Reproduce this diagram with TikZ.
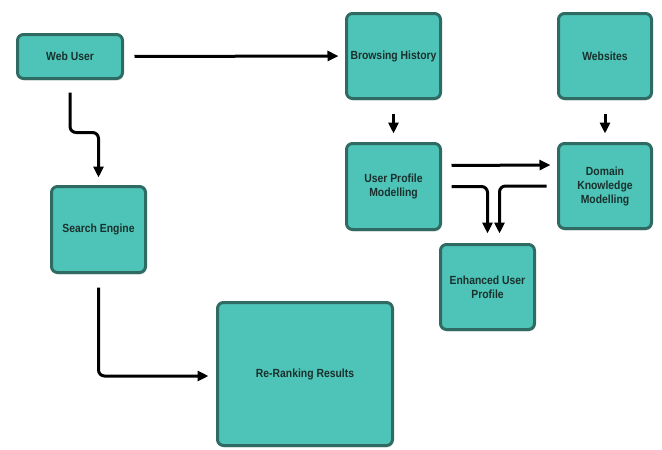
\documentclass[tikz,border=0pt]{standalone}
\usepackage{fontspec}
\setmainfont{Liberation Sans}[FakeStretch=0.88]
\usetikzlibrary{arrows.meta,shadows}
\definecolor{boxfill}{HTML}{4EC4B8}
\definecolor{boxline}{HTML}{2F6B62}
\definecolor{boxtext}{HTML}{1A302D}

\begin{document}
\begin{tikzpicture}[x=1pt,y=-1pt,
  box/.style={draw=boxline, fill=boxfill, line width=3pt, rounded corners=6pt,
    text=boxtext, font=\bfseries\fontsize{11.8}{14}\selectfont, align=center,
    inner sep=2pt, drop shadow={opacity=0.2, shadow xshift=1pt, shadow yshift=-2pt}},
  conn/.style={line width=3pt, rounded corners=6pt, -{Triangle[length=11pt,width=10pt]}}]
\useasboundingbox (0,0) rectangle (662,450);

\node[box, minimum width=105pt, minimum height=44pt] (webuser) at (70,56.5) {Web User};
\node[box, minimum width=94pt, minimum height=85pt] (browsing) at (393.5,56) {Browsing History};
\node[box, minimum width=93pt, minimum height=85pt] (websites) at (605,56) {Websites};
\node[box, minimum width=94pt, minimum height=86pt] (upm) at (393.5,186.5) {User Profile\\Modelling};
\node[box, minimum width=93pt, minimum height=85pt] (dkm) at (605,186) {Domain\\Knowledge\\Modelling};
\node[box, minimum width=94pt, minimum height=85pt] (enhanced) at (487.5,287) {Enhanced User\\Profile};
\node[box, minimum width=94pt, minimum height=86pt] (search) at (98.5,229.5) {Search Engine};
\node[box, minimum width=175pt, minimum height=143pt] (rerank) at (305,374) {Re-Ranking Results};

% connectors
\draw[conn, shorten <=10.5pt, shorten >=6.5pt] (webuser.east) -- (browsing.west);
\draw[conn, shorten <=12.5pt, shorten >=7.5pt] (webuser.south) -- ++(0,52.5) -| (search.north);
\draw[conn, shorten <=13.5pt, shorten >=7.5pt] (search.south) |- ([yshift=-2pt]rerank.west);
\draw[conn, shorten <=13.5pt, shorten >=8.5pt] (browsing.south) -- (upm.north);
\draw[conn, shorten <=13.5pt, shorten >=8.5pt] (websites.south) -- (dkm.north);
\draw[conn, shorten <=9.5pt, shorten >=6.5pt] ([yshift=21pt]upm.east) -- ([yshift=21pt]dkm.west);
\draw[conn, shorten <=9.5pt, shorten >=9.5pt] (upm.east) -| (enhanced.north);
\draw[conn, shorten <=10.5pt, shorten >=9.5pt] (dkm.west) -| ([xshift=12pt]enhanced.north);
\end{tikzpicture}
\end{document}
